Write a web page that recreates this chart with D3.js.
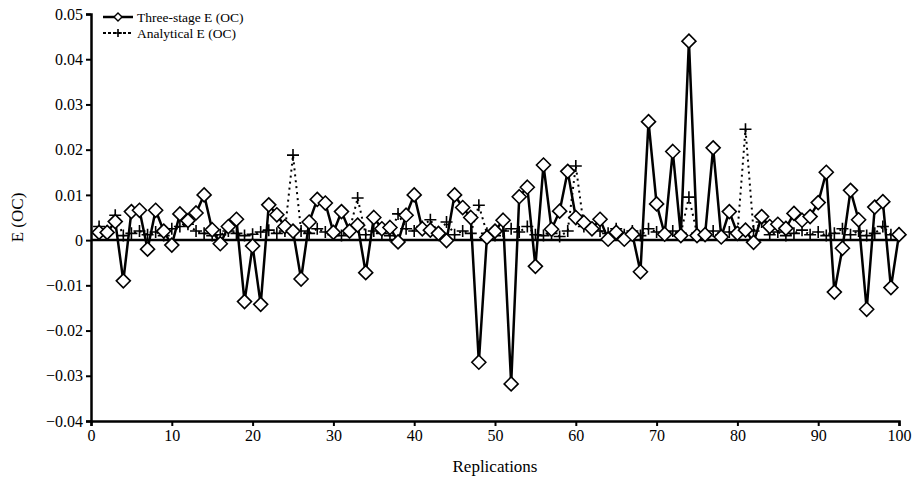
<!DOCTYPE html>
<html>
<head>
<meta charset="utf-8">
<script src="https://cdn.jsdelivr.net/npm/d3@7"></script>
<style>
  body { margin: 0; background: #fff; }
  text { font-family: "Liberation Serif", "DejaVu Serif", serif; fill: #000; }
</style>
</head>
<body>
<svg id="chart" width="917" height="481"></svg>
<script>
// replications 1..100
var replications = d3.range(1, 101);

var threeStage = [
    0.0017, 0.0017, 0.0041, -0.0090, 0.0063, 0.0066, -0.0020, 0.0066, 0.0020, -0.0011,
    0.0058, 0.0043, 0.0060, 0.0100, 0.0023, -0.0008, 0.0030, 0.0046, -0.0136, -0.0013,
    -0.0142, 0.0078, 0.0056, 0.0030, 0.0020, -0.0086, 0.0040, 0.0090, 0.0082, 0.0017,
    0.0063, 0.0020, 0.0033, -0.0072, 0.0050, 0.0025, 0.0028, -0.0004, 0.0055, 0.0100,
    0.0025, 0.0022, 0.0015, -0.0001, 0.0100, 0.0072, 0.0050, -0.0270, 0.0006, 0.0020,
    0.0044, -0.0318, 0.0096, 0.0117, -0.0058, 0.0166, 0.0024, 0.0064, 0.0152, 0.0050,
    0.0039, 0.0025, 0.0046, 0.0002, 0.0017, 0.0002, 0.0013, -0.0070, 0.0262, 0.0080,
    0.0013, 0.0196, 0.0010, 0.0440, 0.0010, 0.0012, 0.0204, 0.0007, 0.0063, 0.0015,
    0.0022, -0.0005, 0.0052, 0.0030, 0.0035, 0.0026, 0.0059, 0.0044, 0.0052, 0.0083,
    0.0150, -0.0115, -0.0018, 0.0110, 0.0045, -0.0153, 0.0073, 0.0085, -0.0105, 0.0012
];

var analytical = [
    0.0030, 0.0020, 0.0055, 0.0010, 0.0015, 0.0020, 0.0012, 0.0018, 0.0010, 0.0025,
    0.0030, 0.0035, 0.0020, 0.0015, 0.0010, 0.0012, 0.0020, 0.0015, 0.0010, 0.0013,
    0.0018, 0.0022, 0.0015, 0.0020, 0.0188, 0.0020, 0.0015, 0.0025, 0.0018, 0.0012,
    0.0010, 0.0022, 0.0093, 0.0012, 0.0020, 0.0015, 0.0010, 0.0058, 0.0025, 0.0020,
    0.0030, 0.0045, 0.0015, 0.0040, 0.0012, 0.0020, 0.0015, 0.0077, 0.0015, 0.0010,
    0.0020, 0.0025, 0.0018, 0.0030, 0.0012, 0.0010, 0.0015, 0.0008, 0.0020, 0.0164,
    0.0030, 0.0025, 0.0020, 0.0015, 0.0025, 0.0012, 0.0020, 0.0010, 0.0025, 0.0018,
    0.0012, 0.0020, 0.0015, 0.0095, 0.0015, 0.0010, 0.0020, 0.0012, 0.0018, 0.0015,
    0.0245, 0.0020, 0.0040, 0.0012, 0.0018, 0.0010, 0.0015, 0.0022, 0.0012, 0.0018,
    0.0010, 0.0015, 0.0025, 0.0012, 0.0020, 0.0010, 0.0015, 0.0030, 0.0012, 0.0015
];

var xTicks = [0, 10, 20, 30, 40, 50, 60, 70, 80, 90, 100];
var yTicks = [-0.04, -0.03, -0.02, -0.01, 0, 0.01, 0.02, 0.03, 0.04, 0.05];

var margin = {left: 91, top: 14, right: 18, bottom: 60},
    width = 917,
    height = 481;

var svg = d3.select("#chart");

var x = d3.scaleLinear().domain([0, 100]).range([margin.left, width - margin.right]);
var y = d3.scaleLinear().domain([-0.04, 0.05]).range([height - margin.bottom, margin.top]);

var yFmt = function(d) { return d === 0 ? "0" : d3.format(".2f")(d); };

// axes
var yAxis = svg.append("g")
    .attr("transform", "translate(" + margin.left + ",0)")
    .call(d3.axisLeft(y).tickValues(yTicks).tickFormat(yFmt).tickSize(5).tickPadding(3));

var xAxis = svg.append("g")
    .attr("transform", "translate(0," + y(-0.04) + ")")
    .call(d3.axisBottom(x).tickValues(xTicks).tickSize(5).tickPadding(4));

[yAxis, xAxis].forEach(function(a) {
    a.select(".domain").attr("stroke", "#000").attr("stroke-width", 2.5);
    a.selectAll(".tick line").attr("stroke", "#000").attr("stroke-width", 2);
    a.selectAll(".tick text")
        .style("font-family", '"Liberation Serif", serif')
        .style("font-size", "16px");
});

// zero line
svg.append("line")
    .attr("x1", x(0)).attr("x2", x(100))
    .attr("y1", y(0)).attr("y2", y(0))
    .attr("stroke", "#000")
    .attr("stroke-width", 2.5);

svg.append("text")
    .attr("x", (x(0) + x(100)) / 2)
    .attr("y", 472)
    .attr("text-anchor", "middle")
    .style("font-size", "17px")
    .text("Replications");

svg.append("text")
    .attr("transform", "translate(23," + y(0.005) + ") rotate(-90)")
    .attr("text-anchor", "middle")
    .style("font-size", "17px")
    .text("E (OC)");

var line = d3.line()
    .x(function(d) { return x(d.r); })
    .y(function(d) { return y(d.v); });

var anaData = replications.map(function(r, i) { return {r: r, v: analytical[i]}; });
var tsData = replications.map(function(r, i) { return {r: r, v: threeStage[i]}; });

// analytical: dotted line with plus markers
svg.append("path")
    .datum(anaData)
    .attr("d", line)
    .attr("fill", "none")
    .attr("stroke", "#000")
    .attr("stroke-width", 2)
    .attr("stroke-dasharray", "2,4");

var plus = d3.symbol().type(d3.symbolCross).size(1);
svg.selectAll(".plus")
    .data(anaData)
    .enter().append("path")
    .attr("class", "plus")
    .attr("d", "M-6,0H6M0,-6V6")
    .attr("transform", function(d) { return "translate(" + x(d.r) + "," + y(d.v) + ")"; })
    .attr("stroke", "#000")
    .attr("stroke-width", 1.6)
    .attr("fill", "none");

// three-stage: solid line with diamond markers
svg.append("path")
    .datum(tsData)
    .attr("d", line)
    .attr("fill", "none")
    .attr("stroke", "#000")
    .attr("stroke-width", 2.5);

svg.selectAll(".dia")
    .data(tsData)
    .enter().append("path")
    .attr("class", "dia")
    .attr("d", "M0,-7L7,0L0,7L-7,0Z")
    .attr("transform", function(d) { return "translate(" + x(d.r) + "," + y(d.v) + ")"; })
    .attr("fill", "#fff")
    .attr("stroke", "#000")
    .attr("stroke-width", 1.6);

// legend
var leg = svg.append("g").attr("transform", "translate(103,17)");
leg.append("line").attr("x1", 0).attr("x2", 30).attr("y1", 0).attr("y2", 0)
    .attr("stroke", "#000").attr("stroke-width", 2.5);
leg.append("path").attr("d", "M0,-4L4,0L0,4L-4,0Z")
    .attr("transform", "translate(15,0)")
    .attr("fill", "#fff").attr("stroke", "#000").attr("stroke-width", 1.4);
leg.append("text").attr("x", 34).attr("y", 4.5).style("font-size", "13.5px").text("Three-stage E (OC)");

leg.append("line").attr("x1", 0).attr("x2", 30).attr("y1", 16).attr("y2", 16)
    .attr("stroke", "#000").attr("stroke-width", 1.8).attr("stroke-dasharray", "3,2");
leg.append("path").attr("d", "M-4,0H4M0,-4V4")
    .attr("transform", "translate(15,16)")
    .attr("stroke", "#000").attr("stroke-width", 1.6);
leg.append("text").attr("x", 34).attr("y", 20.5).style("font-size", "13.5px").text("Analytical E (OC)");
</script>
</body>
</html>
